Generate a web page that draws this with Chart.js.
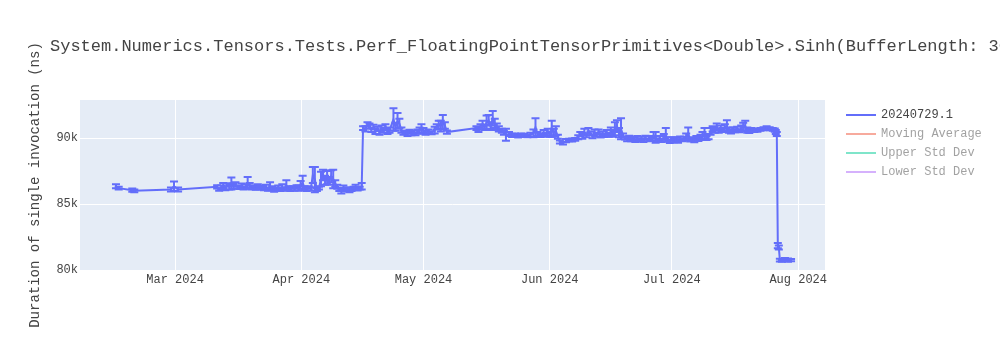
<!DOCTYPE html>
<html>
<head>
<meta charset="utf-8">
<script src="https://cdn.jsdelivr.net/npm/chart.js@4.4.1/dist/chart.umd.min.js"></script>
<style>
  html, body { margin: 0; padding: 0; background: #fff; }
  #wrap { width: 1000px; height: 350px; }
</style>
</head>
<body>
<div id="wrap"><canvas id="chart" width="1000" height="350"></canvas></div>
<script>
const chartTitle = 'System.Numerics.Tensors.Tests.Perf_FloatingPointTensorPrimitives<Double>.Sinh(BufferLength: 3072)';
const yAxisTitle = 'Duration of single invocation (ns)';
const fontFamily = '"Courier New", "Liberation Mono", monospace';

// run dates (UTC, "YYYY-MM-DD HH")
const runDates = [
  '2024-02-15 12','2024-02-16 04','2024-02-19 12','2024-02-20 00','2024-02-29 00','2024-02-29 18','2024-03-01 18',
  '2024-03-11 08','2024-03-11 20','2024-03-12 08','2024-03-12 20','2024-03-13 08','2024-03-13 20','2024-03-14 08','2024-03-14 20',
  '2024-03-15 08','2024-03-15 20','2024-03-16 08','2024-03-16 20','2024-03-17 08','2024-03-17 20','2024-03-18 08','2024-03-18 20',
  '2024-03-19 08','2024-03-19 20','2024-03-20 08','2024-03-20 20','2024-03-21 08','2024-03-21 20','2024-03-22 08','2024-03-22 20',
  '2024-03-23 08','2024-03-23 20','2024-03-24 08','2024-03-24 20','2024-03-25 08','2024-03-25 20','2024-03-26 08','2024-03-26 20',
  '2024-03-27 08','2024-03-27 20','2024-03-28 08','2024-03-28 20','2024-03-29 08','2024-03-29 20','2024-03-30 08','2024-03-30 20',
  '2024-03-31 08','2024-03-31 20','2024-04-01 08','2024-04-01 20','2024-04-02 08','2024-04-02 20','2024-04-03 08','2024-04-03 20',
  '2024-04-04 08','2024-04-04 20','2024-04-05 08','2024-04-05 20','2024-04-06 08','2024-04-06 20','2024-04-07 08','2024-04-07 20',
  '2024-04-08 08','2024-04-08 20','2024-04-09 08','2024-04-09 20','2024-04-10 08','2024-04-10 20','2024-04-11 08','2024-04-11 20',
  '2024-04-12 08','2024-04-12 20','2024-04-13 08','2024-04-13 20','2024-04-14 08','2024-04-14 20','2024-04-15 08','2024-04-15 20',
  '2024-04-16 04','2024-04-16 18','2024-04-17 06','2024-04-17 18','2024-04-18 05','2024-04-18 17','2024-04-19 05','2024-04-19 17',
  '2024-04-20 05','2024-04-20 16','2024-04-21 04','2024-04-21 16','2024-04-22 04','2024-04-22 16','2024-04-23 15','2024-04-24 03',
  '2024-04-24 15','2024-04-25 02','2024-04-25 14','2024-04-26 02','2024-04-26 14','2024-04-27 02','2024-04-27 14','2024-04-28 01',
  '2024-04-28 13','2024-04-29 01','2024-04-29 13','2024-04-30 01','2024-04-30 12','2024-05-01 00','2024-05-01 12','2024-05-02 06',
  '2024-05-03 00','2024-05-03 18','2024-05-04 06','2024-05-04 18','2024-05-05 06','2024-05-05 18','2024-05-06 06','2024-05-06 18',
  '2024-05-14 00','2024-05-14 12','2024-05-15 00','2024-05-15 12','2024-05-16 00','2024-05-16 12','2024-05-17 00','2024-05-17 12',
  '2024-05-18 00','2024-05-18 12','2024-05-19 00','2024-05-19 12','2024-05-20 06','2024-05-20 18','2024-05-21 06','2024-05-22 00',
  '2024-05-22 18','2024-05-23 12','2024-05-24 06','2024-05-25 00','2024-05-25 18','2024-05-26 12','2024-05-27 06','2024-05-28 00',
  '2024-05-28 12','2024-05-29 00','2024-05-29 18','2024-05-30 12','2024-05-31 00','2024-05-31 12',
  '2024-06-01 00','2024-06-01 12','2024-06-02 00','2024-06-02 12','2024-06-03 00','2024-06-03 12','2024-06-04 06','2024-06-05 00',
  '2024-06-05 18','2024-06-06 12','2024-06-07 06','2024-06-08 00','2024-06-08 12','2024-06-09 00','2024-06-09 12','2024-06-10 00',
  '2024-06-10 12','2024-06-11 00','2024-06-11 12','2024-06-12 00','2024-06-12 12','2024-06-13 00','2024-06-13 12','2024-06-14 00',
  '2024-06-14 12','2024-06-15 00','2024-06-15 12','2024-06-16 00','2024-06-16 12','2024-06-17 00','2024-06-17 12','2024-06-18 00',
  '2024-06-18 12','2024-06-19 00','2024-06-19 12','2024-06-20 00','2024-06-20 12','2024-06-21 00','2024-06-21 12','2024-06-22 00',
  '2024-06-22 12','2024-06-23 00','2024-06-23 12','2024-06-24 00','2024-06-24 12','2024-06-25 00','2024-06-25 12','2024-06-26 00',
  '2024-06-26 12','2024-06-27 00','2024-06-27 12','2024-06-28 00','2024-06-28 12','2024-06-29 00','2024-06-29 12','2024-06-30 00',
  '2024-06-30 12',
  '2024-07-01 00','2024-07-01 12','2024-07-02 00','2024-07-02 12','2024-07-03 00','2024-07-03 12','2024-07-04 00','2024-07-04 12',
  '2024-07-05 00','2024-07-05 12','2024-07-06 00','2024-07-06 12','2024-07-07 00','2024-07-07 12','2024-07-08 00','2024-07-08 12',
  '2024-07-09 00','2024-07-09 12','2024-07-10 00','2024-07-10 12','2024-07-11 00','2024-07-11 12','2024-07-12 00','2024-07-12 12',
  '2024-07-13 00','2024-07-13 12','2024-07-14 00','2024-07-14 12','2024-07-15 00','2024-07-15 12','2024-07-16 00','2024-07-16 12',
  '2024-07-17 00','2024-07-17 12','2024-07-18 00','2024-07-18 12','2024-07-19 00','2024-07-19 12','2024-07-20 00','2024-07-20 12',
  '2024-07-21 06','2024-07-22 00','2024-07-22 18','2024-07-23 12','2024-07-24 06','2024-07-25 00','2024-07-25 18','2024-07-26 06',
  '2024-07-26 12','2024-07-26 18','2024-07-27 00','2024-07-27 06','2024-07-27 12','2024-07-28 00','2024-07-28 18','2024-07-29 12',
  '2024-07-30 06'
];

// mean duration per run (ns)
const runValues = [
  86350, 86200, 86050, 86000, 86100, 86350, 86100,
  86300, 86100, 86250, 86400, 86200, 86450, 86300, 86550,
  86350, 86500, 86300, 86250, 86400, 86200, 86350, 86600,
  86400, 86250, 86300, 86200, 86350, 86200, 86250, 86150,
  86300, 86100, 86350, 86200, 86050, 86150, 86250, 86100,
  86300, 86150, 86400, 86200, 86100, 86250, 86150, 86300,
  86200, 86450, 86600, 86200, 86100, 86250, 86150, 87200,
  86850, 86100, 86200, 86900, 87200, 86800, 87000, 86750,
  87100, 86900, 86550, 86300, 86100, 85950, 86200, 86050,
  86150, 86000, 86100, 86200, 86300, 86150, 86200, 86350,
  90750, 90700, 91050, 90900, 90600, 90850, 90500, 90700,
  90400, 90750, 90550, 90900, 90450, 90600, 91400, 90850,
  91300, 91100, 90600, 90400, 90450, 90300, 90500, 90350,
  90450, 90300, 90500, 90600, 90700, 90550, 90400, 90500,
  90400, 90600, 90850, 91000, 90900, 91200, 90950, 90450,
  90750, 90600, 90850, 91000, 90800, 91200, 91350, 90900,
  91500, 91100, 90850, 90700, 90550, 90400, 90250, 90300,
  90200, 90250, 90150, 90250, 90200, 90150, 90250, 90350,
  90800, 90300, 90200, 90400, 90250, 90450,
  90300, 90700, 90400, 90550, 90100, 89700, 89600, 89800,
  89850, 89850, 89900, 90050, 90300, 90150, 90450, 90200,
  90550, 90350, 90100, 90450, 90250, 90500, 90150, 90350,
  90200, 90400, 90250, 90500, 90350, 90700, 90900, 90400,
  90700, 90200, 90000, 89900, 90050, 89850, 89950, 89800,
  90000, 89850, 89950, 89800, 90050, 89850, 90000, 89900,
  90200, 90050, 89850, 90000, 89800, 90100, 90250, 89900,
  89750,
  89950, 89800, 89900, 89750, 90000, 89850, 89950, 90100,
  90350, 89850, 89950, 89800, 90000, 89900, 90050, 90150,
  90350, 90000, 90100, 90500, 90700, 90600, 90850, 90550,
  90750, 90600, 90800, 90900, 90600, 90500, 90650, 90550,
  90700, 90550, 90750, 90850, 90900, 90600, 90500, 90600,
  90550, 90600, 90650, 90700, 90750, 90700, 90650, 90600,
  90450, 90300, 81850, 81700, 80750, 80700, 80800, 80750,
  80750
];

// standard deviation per run (ns), drawn as error bars
const runErrors = [
  150, 100, 120, 100, 150, 350, 150,
  120, 100, 150, 200, 150, 120, 200, 450,
  200, 150, 100, 120, 150, 100, 150, 450,
  200, 150, 100, 120, 150, 100, 120, 100,
  150, 100, 300, 150, 120, 100, 150, 120,
  200, 100, 400, 150, 120, 100, 150, 120,
  200, 300, 550, 150, 120, 100, 120, 600,
  950, 120, 100, 550, 400, 350, 500, 300,
  450, 700, 250, 150, 120, 150, 200, 100,
  120, 100, 120, 100, 150, 120, 100, 250,
  150, 200, 150, 200, 150, 150, 200, 150,
  150, 200, 150, 150, 150, 200, 850, 300,
  600, 350, 200, 150, 100, 150, 120, 150,
  120, 100, 150, 200, 350, 200, 150, 150,
  120, 250, 200, 300, 400, 550, 250, 120,
  150, 150, 200, 300, 200, 500, 400, 300,
  550, 350, 250, 200, 150, 150, 450, 150,
  120, 100, 120, 100, 120, 100, 150, 300,
  700, 150, 120, 200, 150, 250,
  200, 600, 300, 350, 150, 120, 100, 120,
  100, 120, 100, 150, 150, 200, 250, 150,
  200, 150, 120, 200, 150, 150, 120, 150,
  120, 200, 150, 300, 250, 500, 450, 350,
  800, 150, 120, 150, 120, 100, 120, 100,
  150, 120, 150, 100, 120, 100, 150, 120,
  250, 400, 120, 150, 100, 200, 500, 150,
  120,
  100, 120, 150, 100, 120, 100, 150, 250,
  450, 120, 100, 120, 150, 120, 200, 300,
  400, 150, 200, 250, 200, 200, 250, 150,
  200, 150, 250, 450, 200, 150, 150, 120,
  150, 120, 200, 300, 400, 200, 120, 150,
  100, 120, 100, 120, 150, 120, 100, 120,
  150, 150, 200, 150, 100, 80, 100, 120,
  80
];

const seriesNames = ['20240729.1', 'Moving Average', 'Upper Std Dev', 'Lower Std Dev'];
const seriesColors = ['#636efa', '#EF553B', '#00cc96', '#ab63fa'];

const xTickMonths = ['2024-03-01', '2024-04-01', '2024-05-01', '2024-06-01', '2024-07-01', '2024-08-01'];
const xTickLabels = ['Mar 2024', 'Apr 2024', 'May 2024', 'Jun 2024', 'Jul 2024', 'Aug 2024'];
const yTickValues = [80000, 85000, 90000];
const xRange = ['2024-02-06 16', '2024-08-07 14'];
const yRange = [80000, 92880];

function toTime(s) {
  const [d, h] = s.split(' ');
  const [Y, M, D] = d.split('-').map(Number);
  return Date.UTC(Y, M - 1, D, h ? Number(h) : 0);
}

// plot background like plotly
const plotBg = {
  id: 'plotBg',
  beforeDraw(chart) {
    const { ctx, chartArea: a } = chart;
    ctx.save();
    ctx.fillStyle = '#fff';
    ctx.fillRect(0, 0, chart.width, chart.height);
    ctx.fillStyle = '#e5ecf6';
    ctx.fillRect(a.left, a.top, a.right - a.left, a.bottom - a.top);
    ctx.restore();
  }
};

// vertical error bars with caps
const errorBars = {
  id: 'errorBars',
  afterDatasetsDraw(chart) {
    const { ctx, chartArea: a } = chart;
    const xs = chart.scales.x, ys = chart.scales.y;
    ctx.save();
    ctx.beginPath();
    ctx.rect(a.left, a.top, a.right - a.left, a.bottom - a.top);
    ctx.clip();
    ctx.strokeStyle = seriesColors[0];
    ctx.lineWidth = 2;
    runDates.forEach((d, i) => {
      const x = xs.getPixelForValue(toTime(d));
      const y1 = ys.getPixelForValue(runValues[i] + runErrors[i]);
      const y2 = ys.getPixelForValue(runValues[i] - runErrors[i]);
      ctx.beginPath();
      ctx.moveTo(x, y1); ctx.lineTo(x, y2);
      ctx.moveTo(x - 4, y1); ctx.lineTo(x + 4, y1);
      ctx.moveTo(x - 4, y2); ctx.lineTo(x + 4, y2);
      ctx.stroke();
    });
    ctx.restore();
  }
};

// title and legend placed where plotly puts them
const titleAndLegend = {
  id: 'titleAndLegend',
  afterDraw(chart) {
    const ctx = chart.ctx;
    ctx.save();
    ctx.textBaseline = 'middle';
    ctx.fillStyle = '#444';
    ctx.font = '17px ' + fontFamily;
    ctx.fillText(chartTitle, 50, 46);

    ctx.font = '12px ' + fontFamily;
    chart.data.datasets.forEach((ds, i) => {
      const y = 115 + i * 19;
      const on = chart.isDatasetVisible(i);
      ctx.globalAlpha = on ? 1 : 0.5;
      ctx.strokeStyle = ds.borderColor;
      ctx.lineWidth = 2;
      ctx.beginPath();
      ctx.moveTo(846, y); ctx.lineTo(876, y);
      ctx.stroke();
      ctx.fillStyle = '#444';
      ctx.fillText(ds.label, 881, y);
    });
    ctx.restore();
  }
};

const datasets = seriesNames.map((name, i) => ({
  label: name,
  data: i === 0 ? runDates.map((d, j) => ({ x: toTime(d), y: runValues[j] })) : [],
  borderColor: seriesColors[i],
  backgroundColor: seriesColors[i],
  borderWidth: 2,
  pointRadius: 0,
  tension: 0,
  fill: false,
  hidden: i !== 0
}));

new Chart(document.getElementById('chart'), {
  type: 'line',
  data: { datasets },
  options: {
    responsive: false,
    animation: false,
    devicePixelRatio: 1,
    layout: { padding: { top: 100, right: 175, left: 0, bottom: 0 } },
    plugins: {
      legend: { display: false },
      title: { display: false },
      tooltip: { enabled: false }
    },
    scales: {
      x: {
        type: 'linear',
        min: toTime(xRange[0]),
        max: toTime(xRange[1]),
        afterFit(s) { s.height = 80; },
        afterBuildTicks(s) { s.ticks = xTickMonths.map(m => ({ value: toTime(m) })); },
        ticks: {
          autoSkip: false,
          maxRotation: 0,
          padding: 3,
          color: '#444',
          font: { family: fontFamily, size: 12 },
          callback: (v, i) => xTickLabels[i]
        },
        grid: { color: '#fff', lineWidth: 1, drawTicks: false },
        border: { display: false }
      },
      y: {
        min: yRange[0],
        max: yRange[1],
        afterFit(s) { s.width = 80; },
        afterBuildTicks(s) { s.ticks = yTickValues.map(v => ({ value: v })); },
        ticks: {
          padding: 2,
          color: '#444',
          font: { family: fontFamily, size: 12 },
          callback: v => (v / 1000) + 'k'
        },
        title: {
          display: true,
          text: yAxisTitle,
          color: '#444',
          font: { family: fontFamily, size: 14 },
          padding: { top: 27, bottom: 0 }
        },
        grid: { color: '#fff', lineWidth: 1, drawTicks: false },
        border: { display: false }
      }
    }
  },
  plugins: [plotBg, errorBars, titleAndLegend]
});
</script>
</body>
</html>
